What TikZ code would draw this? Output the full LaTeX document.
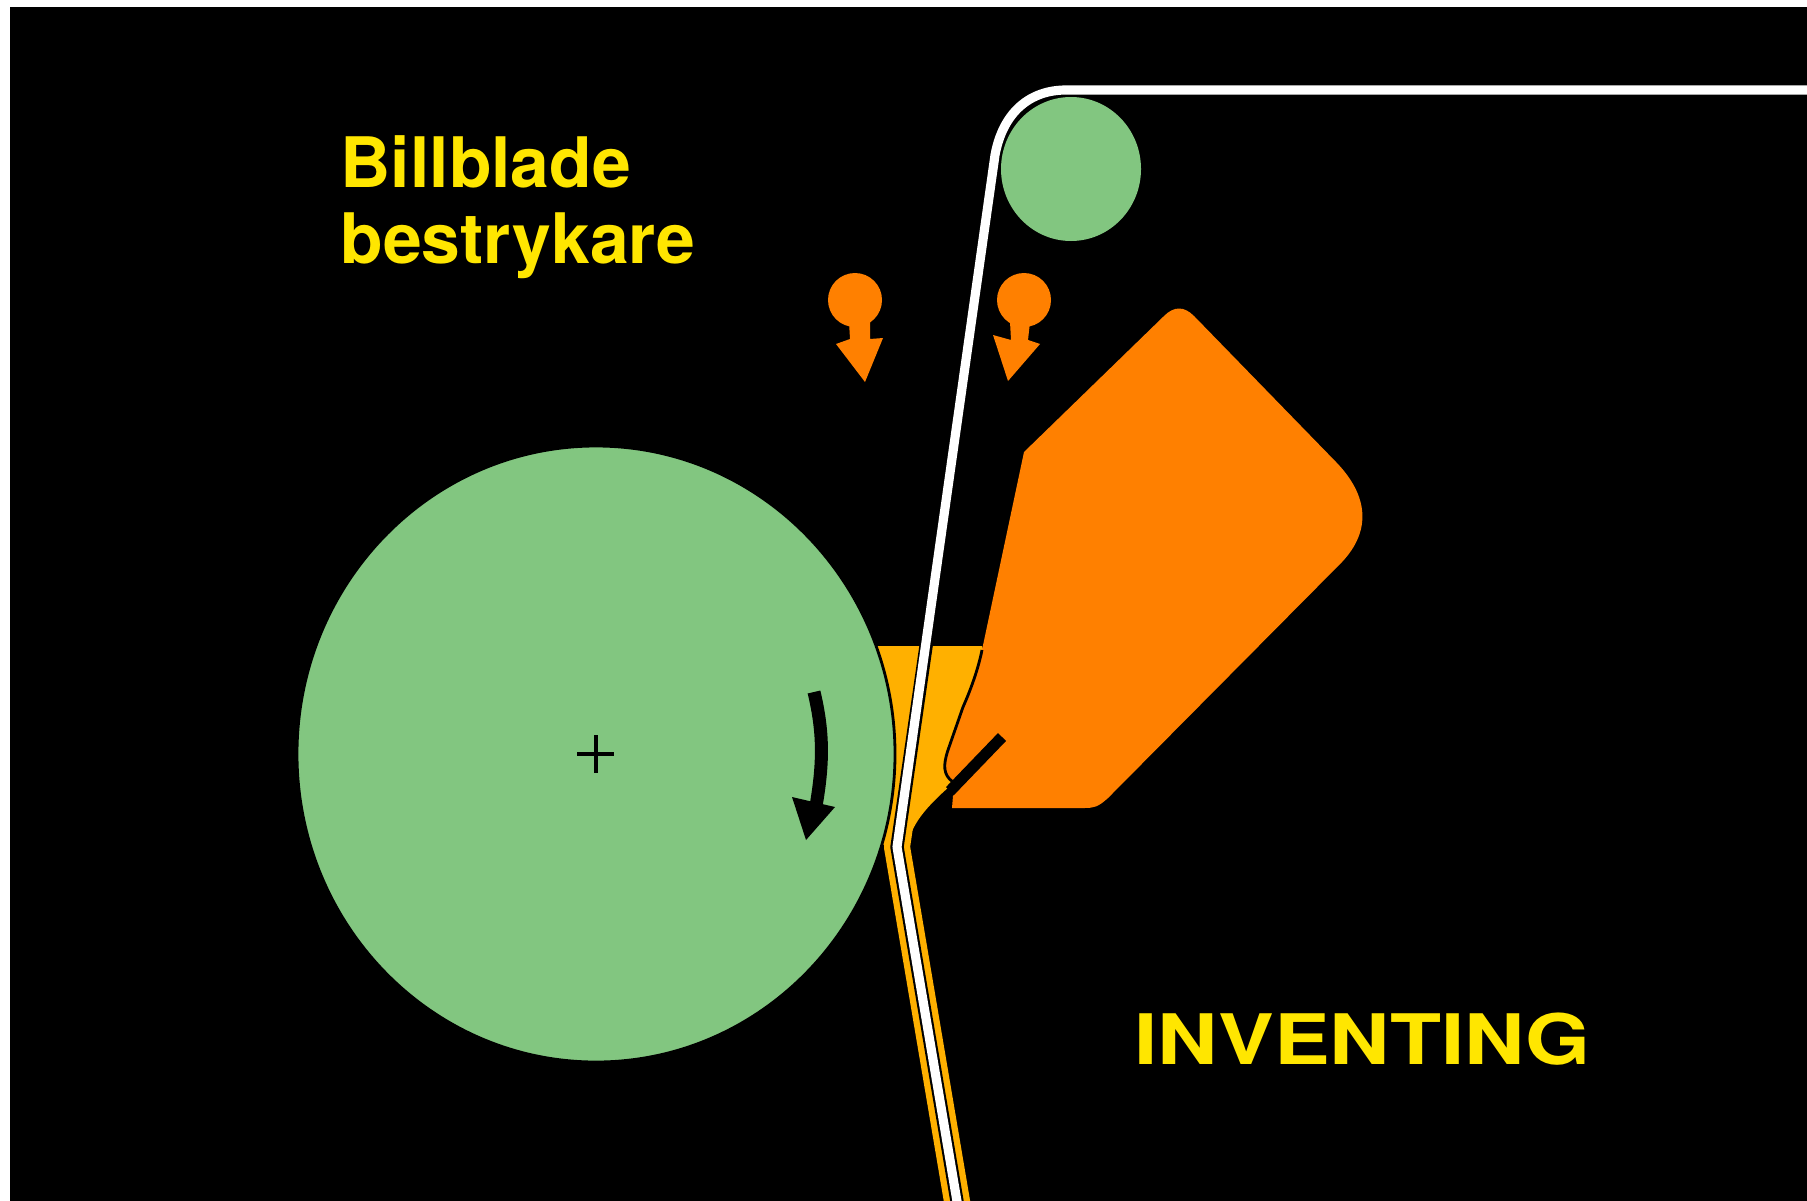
\documentclass[tikz,border=0pt]{standalone}
\usepackage{fontspec}
\setmainfont{TeX Gyre Heros}
\usepackage{xcolor}
\usetikzlibrary{arrows.meta, calc}
\definecolor{rollgreen}{RGB}{130, 198, 128}
\definecolor{bladeorange}{RGB}{255, 128, 0}
\definecolor{coatamber}{RGB}{255, 176, 0}
\definecolor{labelyellow}{RGB}{255, 230, 0}
\tikzset{
    roller/.style={fill=rollgreen, draw=black, line width=0.8pt},
    jetcol/.style={fill=bladeorange},
    labeltext/.style={text=labelyellow, font=\fontsize{19.8}{19.8}\selectfont\bfseries, inner sep=0pt, anchor=base west},
}

\begin{document}
\begin{tikzpicture}[x=0.01cm, y=-0.01cm]

\useasboundingbox (0, 0) rectangle (1807, 1200);
\fill[black] (10, 7) rectangle (1830, 1230);

% Coating pool between roller and blade
\fill[coatamber] (870, 646) -- (982, 646) -- (1000, 700) -- (950, 786)
    .. controls (925, 808) and (905, 830) .. (908, 856) -- (890, 850) -- (878, 840) -- cycle;

% Coated layer on the web below the nip
\draw[coatamber, line width=7.4pt, line join=round] (924, 660) -- (897, 847) -- (961, 1225);

% Web
\draw[black, line width=3.8pt, line join=round] (937, 570) -- (897, 847) -- (961, 1225);
\draw[white, line width=2.6pt, line join=round] (1830, 90) -- (1066, 90)
    .. controls (1030, 90) and (1003, 112) .. (995, 155)
    -- (897, 847) -- (961, 1225);

% Rollers
\draw[roller] (596, 754) ellipse [x radius=299, y radius=308];
\fill[rollgreen] (1071, 169) ellipse [x radius=70, y radius=72];

% Center mark
\draw[black, line width=0.9pt] (577, 754) -- (614, 754);
\draw[black, line width=0.9pt] (596, 735) -- (596, 773);

% Rotation arrow
\draw[black, line width=3.7pt] (814, 692) .. controls (823, 730) and (824, 760) .. (816, 806);
\fill[black] (792, 797) -- (835, 807) -- (806, 840) -- cycle;

% Blade
\fill[bladeorange] (1024, 452) -- (1164, 316) .. controls (1174, 306) and (1184, 306) .. (1194, 316)
    -- (1336, 462) .. controls (1368, 495) and (1372, 530) .. (1342, 562)
    -- (1108, 798) .. controls (1098, 807) and (1094, 808) .. (1084, 808)
    -- (952, 808) -- (953, 796) -- (975, 772) -- (953, 782)
    .. controls (943, 775) and (943, 765) .. (948, 750)
    -- (963, 707) .. controls (975, 680) and (980, 660) .. (982, 650) -- cycle;
\draw[black, line width=0.8pt] (982, 650) .. controls (980, 660) and (975, 680) .. (963, 707)
    -- (948, 750) .. controls (943, 765) and (943, 775) .. (953, 782);
\draw[black, line width=3.2pt] (1002, 737) -- (950, 791);

% Jets
\fill[jetcol] (855, 300) circle (27);
\fill[jetcol] (849, 322) -- (850, 339) -- (836, 344) -- (865, 382) -- (883, 338) -- (870, 339) -- (870, 322) -- cycle;
\fill[jetcol] (1024, 300) circle (27);
\fill[jetcol] (1010, 322) -- (1011, 340) -- (993, 335) -- (1008, 381) -- (1040, 344) -- (1028, 340) -- (1030, 322) -- cycle;

% Labels
\node[labeltext] (billblade) at (340, 187) {Billblade};
\node[labeltext] (bestrykare) at (340, 263) {bestrykare};
\node[labeltext] (inventing) at (1134, 1064) {\scalebox{1.2}[1]{INVENTING}};

\end{tikzpicture}
\end{document}
